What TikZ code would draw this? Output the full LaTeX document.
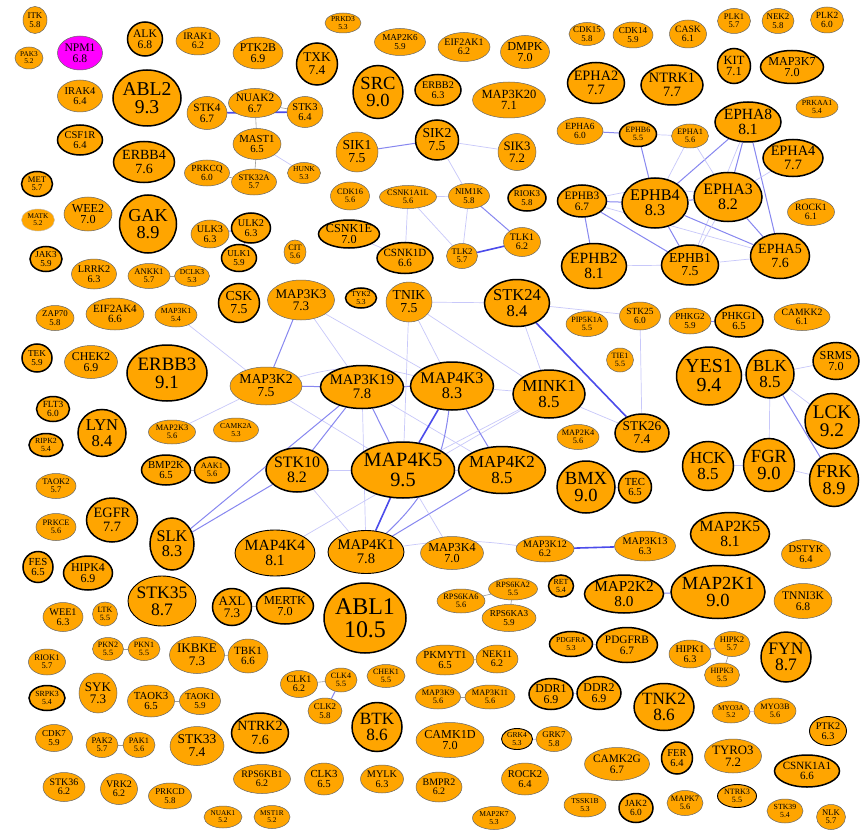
\documentclass[tikz,border=0pt]{standalone}
\usepackage{fontspec}
\setmainfont{Liberation Serif}
\usetikzlibrary{shapes.geometric}
\pgfdeclarelayer{bg}
\pgfsetlayers{bg,main}
\definecolor{kor}{RGB}{255,165,0}
\definecolor{kmag}{RGB}{255,0,255}
\definecolor{eA}{RGB}{200,200,250}
\definecolor{eB}{RGB}{135,135,240}
\definecolor{eC}{RGB}{75,75,235}
\tikzset{
  kin/.style={ellipse, fill=kor, inner sep=-3pt, align=center, text=black},
  kt/.style={draw=black, line width=1.5pt},
  km/.style={draw=black, line width=0.9pt},
  kn/.style={draw=black!60, line width=0.5pt},
  eo/.style={draw=black!40, line width=0.6pt},
  ea/.style={draw=eA, line width=0.7pt},
  eb/.style={draw=eB, line width=1.0pt},
  ec/.style={draw=eC, line width=1.6pt}
}
\newcommand\kn[7]{%
  \pgfmathsetmacro\kfs{7.3+2.5*(#6-5.2)+0.12*(#6-5.2)^2}%
  \pgfmathsetmacro\kbs{0.95*\kfs}%
  \node[kin,#7,minimum width=#4pt,minimum height=#5pt,font={\fontsize{\kfs}{\kbs}\selectfont}] (#1) at (#2,#3) {#1\\#6};%
}
\begin{document}
\begin{tikzpicture}[x=1pt,y=-1pt]
\useasboundingbox (0,0) rectangle (865,832);
% ---- top left
\kn{ITK}{35}{20}{24}{27}{5.8}{kn}
\kn{PAK3}{29}{58}{28}{22}{5.2}{kn}
\kn{NPM1}{80}{53}{45}{34}{6.8}{kn,fill=kmag}
\kn{ALK}{145}{39}{35}{34}{6.8}{kt}
\kn{IRAK1}{198}{41}{44}{28}{6.2}{kn}
\kn{PTK2B}{258}{53}{50}{32}{6.9}{kn}
\kn{ABL2}{147}{98}{68}{56}{9.3}{kt}
\kn{IRAK4}{80}{96}{45}{32}{6.4}{kn}
\kn{STK4}{207}{113}{40}{33}{6.7}{kn}
\kn{NUAK2}{255}{103}{53}{29}{6.7}{kn}
\kn{CSF1R}{80}{140}{45}{30}{6.4}{kt}
\kn{MAST1}{257}{144}{48}{31}{6.5}{kn}
\kn{ERBB4}{144}{162}{61}{41}{7.6}{kt}
\kn{PRKCQ}{207}{173}{45}{26}{6.0}{kn}
\kn{STK32A}{254}{182}{45}{26}{5.7}{kn}
\kn{MET}{37}{184}{31}{25}{5.7}{kt}
\kn{MATK}{38}{220}{33}{22}{5.2}{draw=black!25,line width=0.4pt}
\kn{WEE2}{88}{214}{48}{34}{7.0}{kn}
\kn{GAK}{148}{224}{57}{58}{8.9}{kt}
\kn{ULK3}{210}{234}{38}{28}{6.3}{kn}
\kn{ULK2}{251}{228}{39}{30}{6.3}{kt}
\kn{ULK1}{239}{258}{35}{27}{5.9}{kt}
\kn{JAK3}{46}{259}{32}{25}{5.9}{kt}
\kn{LRRK2}{94}{274}{45}{30}{6.3}{kn}
\kn{ANKK1}{149}{276}{42}{25}{5.7}{kn}
\kn{DCLK3}{192}{276}{35}{21}{5.3}{kn}
% ---- top middle
\kn{PRKD3}{343}{23}{36}{20}{5.3}{kn}
\kn{MAP2K6}{400}{42}{51}{27}{5.9}{kn}
\kn{EIF2AK1}{464}{47}{52}{29}{6.2}{kn}
\kn{DMPK}{525}{52}{49}{33}{7.0}{kn}
\kn{TXK}{317}{64}{41}{42}{7.4}{kt}
\kn{SRC}{378}{92}{50}{53}{9.0}{kt}
\kn{ERBB2}{438}{90}{46}{31}{6.3}{kt}
\kn{MAP3K20}{509}{100}{73}{36}{7.1}{kn}
\kn{STK3}{305}{112}{36}{31}{6.4}{kn}
\kn{SIK1}{357}{152}{42}{40}{7.5}{kn}
\kn{SIK2}{437}{140}{43}{40}{7.5}{kt}
\kn{SIK3}{517}{152}{38}{37}{7.2}{kn}
\kn{HUNK}{304}{173}{33}{21}{5.3}{kn}
\kn{CDK16}{350}{196}{39}{28}{5.6}{kn}
\kn{CSNK1A1L}{408}{197}{57}{23}{5.6}{kn}
\kn{NIM1K}{469}{196}{41}{25}{5.8}{kn}
\kn{RIOK3}{527}{198}{38}{26}{5.8}{kt}
\kn{CSNK1E}{349}{234}{61}{28}{7.0}{kt}
\kn{CIT}{295}{252}{22}{24}{5.6}{kn}
\kn{CSNK1D}{405}{258}{56}{31}{6.6}{kt}
\kn{TLK2}{462}{256}{31}{25}{5.7}{kn}
\kn{TLK1}{522}{242}{37}{29}{6.2}{kn}
% ---- top right
\kn{CDK15}{587}{34}{36}{23}{5.8}{kn}
\kn{CDK14}{633}{35}{40}{26}{5.9}{kn}
\kn{CASK}{688}{34}{37}{28}{6.1}{kn}
\kn{PLK1}{734}{21}{33}{25}{5.7}{kn}
\kn{NEK2}{778}{21}{32}{25}{5.8}{kn}
\kn{PLK2}{827}{20}{33}{26}{6.0}{kn}
\kn{EPHA2}{596}{83}{57}{41}{7.7}{kt}
\kn{NTRK1}{672}{85}{62}{40}{7.7}{kt}
\kn{KIT}{734}{66}{33}{35}{7.1}{kt}
\kn{MAP3K7}{792}{67}{63}{33}{7.0}{kt}
\kn{PRKAA1}{817}{107}{42}{22}{5.4}{kn}
\kn{EPHA6}{580}{131}{46}{27}{6.0}{kn}
\kn{EPHB6}{638}{134}{37}{25}{5.5}{kt}
\kn{EPHA1}{690}{136}{37}{24}{5.6}{kn}
\kn{EPHA8}{748}{122}{66}{40}{8.1}{kt}
\kn{EPHA4}{793}{158}{60}{37}{7.7}{kt}
\kn{EPHB3}{582}{201}{49}{32}{6.7}{kt}
\kn{EPHB4}{655}{203}{66}{50}{8.3}{kt}
\kn{EPHA3}{728}{197}{68}{49}{8.2}{kt}
\kn{ROCK1}{811}{212}{47}{27}{6.1}{kn}
\kn{EPHA5}{780}{256}{59}{45}{7.6}{kt}
\kn{EPHB2}{594}{266}{65}{45}{8.1}{kt}
\kn{EPHB1}{690}{265}{57}{40}{7.5}{kt}
% ---- middle left
\kn{ZAP70}{55}{318}{38}{25}{5.8}{kn}
\kn{EIF2AK4}{115}{314}{58}{32}{6.6}{kn}
\kn{MAP3K1}{176}{315}{42}{24}{5.4}{kn}
\kn{CSK}{239}{303}{41}{39}{7.5}{kt}
\kn{TEK}{37}{358}{30}{28}{5.9}{kt}
\kn{CHEK2}{91}{362}{53}{33}{6.9}{kn}
\kn{ERBB3}{167}{373}{80}{56}{9.1}{kt}
\kn{MAP3K2}{266}{386}{72}{38}{7.5}{kn}
\kn{FLT3}{53}{409}{33}{25}{6.0}{kt}
\kn{LYN}{102}{433}{48}{47}{8.4}{kt}
\kn{RIPK2}{46}{445}{34}{23}{5.4}{kt}
\kn{MAP2K3}{172}{432}{47}{24}{5.6}{kn}
\kn{CAMK2A}{236}{430}{45}{24}{5.3}{kn}
\kn{BMP2K}{166}{470}{49}{30}{6.5}{kt}
\kn{AAK1}{212}{470}{35}{26}{5.6}{kt}
\kn{TAOK2}{56}{486}{40}{25}{5.7}{kn}
\kn{EGFR}{112}{520}{51}{44}{7.7}{kt}
\kn{PRKCE}{56}{527}{40}{27}{5.6}{kn}
\kn{SLK}{172}{544}{44}{52}{8.3}{kt}
% ---- middle
\kn{MAP3K3}{301}{300}{67}{40}{7.3}{kn}
\kn{TYK2}{361}{298}{31}{20}{5.3}{kt}
\kn{TNIK}{409}{302}{46}{40}{7.5}{kn}
\kn{STK24}{517}{303}{65}{47}{8.4}{kt}
\kn{PIP5K1A}{587}{324}{42}{25}{5.5}{kn}
\kn{MAP3K19}{362}{387}{83}{43}{7.8}{kt}
\kn{MAP4K3}{452}{386}{83}{48}{8.3}{kt}
\kn{MINK1}{549}{394}{72}{48}{8.5}{kt}
\kn{STK10}{297}{470}{62}{44}{8.2}{kt}
\kn{MAP4K5}{403}{470}{101}{56}{9.5}{kt}
\kn{MAP4K2}{502}{470}{87}{47}{8.5}{kt}
\kn{MAP4K4}{275}{553}{80}{46}{8.1}{km}
\kn{MAP4K1}{366}{552}{76}{43}{7.8}{km}
\kn{MAP3K4}{452}{553}{63}{33}{7.0}{kn}
\kn{MAP3K12}{545}{549}{58}{26}{6.2}{kn}
% ---- middle right
\kn{STK25}{640}{316}{41}{28}{6.0}{kn}
\kn{PHKG2}{690}{321}{42}{26}{5.9}{kn}
\kn{PHKG1}{739}{321}{48}{32}{6.5}{kt}
\kn{CAMKK2}{802}{317}{56}{27}{6.1}{kn}
\kn{TIE1}{620}{360}{27}{24}{5.5}{kn}
\kn{YES1}{709}{376}{65}{58}{9.4}{kt}
\kn{BLK}{770}{374}{48}{48}{8.5}{kt}
\kn{SRMS}{836}{361}{46}{37}{7.0}{kt}
\kn{LCK}{832}{421}{54}{55}{9.2}{kt}
\kn{STK26}{642}{433}{54}{38}{7.4}{kt}
\kn{MAP2K4}{578}{437}{42}{25}{5.6}{kn}
\kn{HCK}{708}{466}{51}{49}{8.5}{kt}
\kn{FGR}{769}{465}{51}{53}{9.0}{kt}
\kn{FRK}{834}{480}{49}{53}{8.9}{kt}
\kn{BMX}{586}{487}{58}{52}{9.0}{kt}
\kn{TEC}{635}{487}{33}{32}{6.5}{kt}
\kn{MAP3K13}{645}{546}{61}{30}{6.3}{kn}
\kn{MAP2K5}{730}{534}{79}{43}{8.1}{kt}
\kn{DSTYK}{806}{554}{49}{29}{6.4}{kn}
% ---- bottom left
\kn{FES}{38}{567}{30}{31}{6.5}{kt}
\kn{HIPK4}{88}{573}{49}{34}{6.9}{kt}
\kn{STK35}{162}{601}{68}{50}{8.7}{km}
\kn{AXL}{232}{607}{39}{37}{7.3}{kt}
\kn{MERTK}{285}{606}{57}{36}{7.0}{kt}
\kn{WEE1}{63}{617}{40}{29}{6.3}{kn}
\kn{LTK}{105}{614}{25}{24}{5.5}{kn}
\kn{PKN2}{108}{649}{31}{23}{5.5}{kn}
\kn{PKN1}{144}{649}{32}{23}{5.5}{kn}
\kn{IKBKE}{197}{655}{55}{37}{7.3}{kn}
\kn{TBK1}{248}{656}{40}{34}{6.6}{kn}
\kn{RIOK1}{47}{662}{37}{26}{5.7}{kn}
\kn{SYK}{98}{693}{38}{40}{7.3}{kn}
\kn{SRPK3}{47}{698}{36}{25}{5.4}{kt}
\kn{TAOK3}{151}{701}{47}{32}{6.5}{kn}
\kn{TAOK1}{200}{701}{41}{27}{5.9}{kn}
\kn{NTRK2}{260}{733}{57}{40}{7.6}{kt}
\kn{CDK7}{54}{738}{37}{27}{5.9}{kn}
\kn{PAK2}{102}{745}{32}{25}{5.7}{kn}
\kn{PAK1}{139}{745}{32}{25}{5.6}{kn}
\kn{STK33}{197}{746}{54}{39}{7.4}{kn}
\kn{RPS6KB1}{262}{779}{57}{29}{6.2}{kn}
\kn{STK36}{64}{787}{42}{29}{6.2}{kn}
\kn{VRK2}{119}{789}{37}{31}{6.2}{kn}
\kn{PRKCD}{170}{796}{43}{26}{5.8}{kn}
\kn{NUAK1}{223}{817}{38}{22}{5.2}{kn}
\kn{MST1R}{272}{817}{36}{23}{5.2}{kn}
% ---- bottom middle
\kn{ABL1}{365}{618}{82}{70}{10.5}{kt}
\kn{RPS6KA6}{461}{601}{48}{24}{5.6}{kn}
\kn{RPS6KA2}{513}{589}{49}{22}{5.5}{kn}
\kn{RPS6KA3}{509}{618}{54}{27}{5.9}{kn}
\kn{RET}{561}{586}{25}{22}{5.4}{kt}
\kn{PDGFRA}{571}{644}{43}{25}{5.3}{kt}
\kn{PKMYT1}{445}{660}{58}{30}{6.5}{kn}
\kn{NEK11}{497}{659}{42}{28}{6.2}{kn}
\kn{CLK1}{299}{684}{37}{27}{6.2}{kn}
\kn{CLK4}{341}{680}{32}{24}{5.5}{kn}
\kn{CHEK1}{386}{676}{38}{23}{5.5}{kn}
\kn{CLK2}{325}{711}{34}{26}{5.8}{kn}
\kn{MAP3K9}{438}{697}{45}{24}{5.6}{kn}
\kn{MAP3K11}{490}{697}{50}{24}{5.6}{kn}
\kn{DDR1}{551}{694}{44}{31}{6.9}{kt}
\kn{BTK}{377}{727}{50}{49}{8.6}{kt}
\kn{CAMK1D}{450}{740}{68}{35}{7.0}{kn}
\kn{GRK4}{517}{739}{31}{21}{5.3}{km}
\kn{GRK7}{554}{739}{36}{25}{5.8}{kn}
\kn{CLK3}{324}{779}{39}{32}{6.5}{kn}
\kn{MYLK}{382}{779}{43}{28}{6.3}{kn}
\kn{BMPR2}{439}{787}{46}{30}{6.2}{kn}
\kn{ROCK2}{525}{779}{47}{32}{6.4}{kn}
\kn{MAP2K7}{494}{818}{43}{23}{5.3}{kn}
% ---- bottom right
\kn{MAP2K2}{624}{594}{79}{38}{8.0}{kt}
\kn{MAP2K1}{718}{592}{94}{53}{9.0}{kt}
\kn{TNNI3K}{803}{601}{58}{35}{6.8}{kn}
\kn{PDGFRB}{627}{645}{61}{35}{6.7}{kt}
\kn{HIPK1}{690}{654}{42}{28}{6.3}{kn}
\kn{HIPK2}{732}{644}{36}{25}{5.7}{kn}
\kn{HIPK3}{722}{675}{35}{24}{5.5}{kn}
\kn{FYN}{786}{657}{50}{50}{8.7}{kt}
\kn{DDR2}{599}{693}{44}{33}{6.9}{kt}
\kn{TNK2}{664}{707}{60}{47}{8.6}{kt}
\kn{MYO3A}{731}{712}{38}{22}{5.2}{kn}
\kn{MYO3B}{775}{711}{42}{26}{5.6}{kn}
\kn{PTK2}{828}{731}{37}{29}{6.3}{km}
\kn{CAMK2G}{617}{764}{65}{33}{6.7}{kn}
\kn{FER}{677}{758}{31}{32}{6.4}{kt}
\kn{TYRO3}{733}{756}{57}{34}{7.2}{kn}
\kn{CSNK1A1}{807}{771}{65}{32}{6.6}{kt}
\kn{TSSK1B}{585}{805}{42}{24}{5.3}{kn}
\kn{JAK2}{636}{808}{34}{29}{6.0}{kt}
\kn{MAPK7}{685}{803}{36}{25}{5.6}{kn}
\kn{NTRK3}{737}{796}{39}{23}{5.5}{km}
\kn{STK39}{785}{811}{36}{24}{5.4}{kn}
\kn{NLK}{831}{817}{29}{25}{5.7}{kn}
% ---- connectors
\begin{pgfonlayer}{bg}
\fill[white] (0,0) rectangle (865,832);
\draw[ec] (STK4) -- (STK3);
\draw[eo] (NUAK2) -- (STK3);
\draw[eo] (NUAK2) -- (MAST1);
\draw[eo] (MAST1) -- (STK32A);
\draw[eo] (PRKCQ) -- (STK32A);
\draw[ea] (MAST1) -- (HUNK);
\draw[eb] (ULK3) -- (ULK2);
\draw[eb] (ULK2) -- (ULK1);
\draw[eo] (ANKK1) -- (DCLK3);
\draw[eb] (SIK1) -- (SIK2);
\draw[ea] (SIK2) -- (SIK3);
\draw[ea] (SIK2) -- (NIM1K);
\draw[ea] (CSNK1A1L) -- (NIM1K);
\draw[ea] (CSNK1A1L) -- (CSNK1D);
\draw[ea] (CSNK1A1L) -- (TLK2);
\draw[ea] (NIM1K) -- (TLK2);
\draw[eb] (NIM1K) -- (TLK1);
\draw[ec] (TLK2) -- (TLK1);
\draw[ea] (CSNK1E) -- (CSNK1D);
% EPH
\draw[eb] (EPHA6) -- (EPHB6);
\draw[ea] (EPHB6) -- (EPHA1);
\draw[eb] (EPHB6) -- (EPHB4);
\draw[ea] (EPHA1) -- (EPHB4);
\draw[eb] (EPHA8) -- (EPHB4);
\draw[eb] (EPHA8) -- (EPHA3);
\draw[eb] (EPHA8) -- (EPHA5);
\draw[ea] (EPHA8) -- (EPHB1);
\draw[ea] (EPHA1) -- (EPHA3);
\draw[ea] (EPHA4) -- (EPHA3);
\draw[eb] (EPHB3) -- (EPHB4);
\draw[ea] (EPHB3) to[bend left=10] (EPHA3);
\draw[eb] (EPHB3) -- (EPHB2);
\draw[eb] (EPHB3) -- (EPHB1);
\draw[ea] (EPHB3) -- (EPHA5);
\draw[eb] (EPHB4) -- (EPHA3);
\draw[eb] (EPHB4) -- (EPHA5);
\draw[eb] (EPHB4) -- (EPHB1);
\draw[ea] (EPHB2) -- (EPHB1);
\draw[ea] (EPHB1) -- (EPHA5);
\draw[eb] (EPHA3) -- (EPHA5);
\draw[ea] (EPHA3) -- (EPHB1);
% MAP4K cluster
\draw[ea] (MAP3K1) -- (MAP3K2);
\draw[ea] (MAP2K3) -- (MAP3K2);
\draw[eb] (MAP3K3) -- (MAP3K2);
\draw[ea] (MAP3K3) -- (MAP3K19);
\draw[ea] (MAP3K3) -- (MAP4K3);
\draw[eb] (MAP3K2) -- (MAP3K19);
\draw[ea] (MAP3K2) to[bend left=15] (MAP4K3);
\draw[ea] (MAP3K2) -- (MAP4K5);
\draw[eb] (MAP3K19) -- (MAP4K3);
\draw[eb] (MAP3K19) -- (MAP4K5);
\draw[eb] (MAP3K19) -- (STK10);
\draw[eb] (MAP3K19) -- (SLK);
\draw[ea] (MAP3K19) -- (MAP4K2);
\draw[ea] (MAP3K19) -- (MAP4K1);
\draw[eb] (SLK) -- (STK10);
\draw[ea] (STK10) -- (MAP4K5);
\draw[ea] (STK10) -- (MAP4K1);
\draw[ea] (MAP4K4) -- (MINK1);
\draw[ea] (TNIK) -- (STK24);
\draw[ea] (TNIK) -- (MINK1);
\draw[ea] (TNIK) -- (MAP4K5);
\draw[ea] (TNIK) -- (MAP4K3);
\draw[ea] (STK24) -- (MINK1);
\draw[ec] (STK24) -- (STK26);
\draw[ea] (STK24) -- (STK25);
\draw[ea] (STK25) -- (STK26);
\draw[ea] (MINK1) -- (STK26);
\draw[ea] (MAP4K3) -- (MINK1);
\draw[ec] (MAP4K3) -- (MAP4K5);
\draw[eb] (MAP4K3) -- (MAP4K2);
\draw[eb] (MAP4K3) to[bend left=20] (MAP4K1);
\draw[ec] (MAP4K5) -- (MAP4K1);
\draw[ea] (MAP4K5) -- (MAP4K2);
\draw[eb] (MAP4K2) -- (MAP4K1);
\draw[ea] (MINK1) -- (MAP4K5);
\draw[ea] (MAP4K5) -- (MAP3K4);
\draw[ea] (MAP4K1) to[bend left=8] (MAP3K12);
\draw[ec] (MAP3K12) -- (MAP3K13);
\draw[eo] (BMP2K) -- (AAK1);
% right
\draw[eb] (PHKG2) -- (PHKG1);
\draw[ea] (YES1) -- (BLK);
\draw[ea] (BLK) -- (SRMS);
\draw[ea] (BLK) -- (LCK);
\draw[ea] (BLK) -- (FGR);
\draw[eb] (BLK) -- (FRK);
\draw[ea] (HCK) -- (FGR);
\draw[ea] (FGR) -- (FRK);
\draw[ea] (BMX) -- (TEC);
% bottom
\draw[eo] (AXL) -- (MERTK);
\draw[eo] (PKN2) -- (PKN1);
\draw[eo] (IKBKE) -- (TBK1);
\draw[eo] (TAOK3) -- (TAOK1);
\draw[eo] (PAK2) -- (PAK1);
\draw[eo] (RPS6KA6) -- (RPS6KA2);
\draw[eo] (RPS6KA2) -- (RPS6KA3);
\draw[eo] (PKMYT1) -- (NEK11);
\draw[eo] (MAP3K9) -- (MAP3K11);
\draw[eo] (CLK1) -- (CLK4);
\draw[eb] (CLK4) -- (CLK2);
\draw[eb] (MAP2K2) -- (MAP2K1);
\draw[ea] (PDGFRA) -- (PDGFRB);
\draw[eb] (HIPK1) -- (HIPK2);
\draw[eo] (HIPK2) -- (HIPK3);
\draw[ea] (DDR1) -- (DDR2);
\draw[ea] (MYO3A) -- (MYO3B);
\draw[ea] (GRK4) -- (GRK7);
\end{pgfonlayer}
\end{tikzpicture}
\end{document}
